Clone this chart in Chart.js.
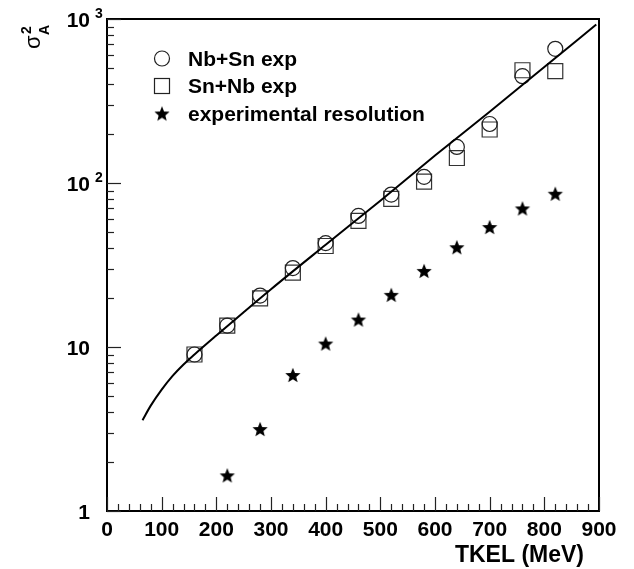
<!DOCTYPE html>
<html>
<head>
<meta charset="utf-8">
<title>sigma_A^2 vs TKEL</title>
<script src="https://cdn.jsdelivr.net/npm/chart.js@4.4.0/dist/chart.umd.min.js"></script>
<style>
    html, body { margin: 0; padding: 0; background: #ffffff; }
    #wrap { width: 634px; height: 569px; }
</style>
</head>
<body>
<div id="wrap"><canvas id="sigmaChart" width="634" height="569"></canvas></div>
<script>
// data
const energies = [160, 220, 280, 340, 400, 460, 520, 580, 640, 700, 760, 820];
const nbSnValues = [9.0, 13.5, 20.6, 30.3, 43, 63, 85, 109, 166, 229, 448, 658];
const snNbValues = [9.0, 13.5, 19.8, 28.4, 41.3, 58.7, 80, 102, 142, 212, 487, 481];

const resolutionEnergies = [220, 280, 340, 400, 460, 520, 580, 640, 700, 760, 820];
const resolutionValues = [1.65, 3.16, 6.75, 10.5, 14.7, 20.8, 29.1, 40.6, 53.9, 70, 86];

const fitEnergies = [65, 80, 100, 120, 140, 160, 200, 250, 300, 400, 500, 600, 700, 800, 895];
const fitValues = [3.58, 4.39, 5.5, 6.67, 7.83, 9.0, 11.75, 16.3, 22.5, 42, 78, 147, 272, 510, 925];

const seriesLabels = ['Nb+Sn exp', 'Sn+Nb exp', 'experimental resolution'];

const xTickValues = [0, 100, 200, 300, 400, 500, 600, 700, 800, 900];
const yTickValues = [1, 10, 100, 1000];
const yTickBases = ['1', '10', '10', '10'];
const yTickExponents = ['', '', '2', '3'];

const xTitle = 'TKEL (MeV)';

const FONT = '"Liberation Sans", Arial, Helvetica, sans-serif';

function toPoints(xs, ys) {
    return xs.map((x, i) => ({ x: x, y: ys[i] }));
}

// filled five-point star used as marker
function makeStar(r) {
    const size = Math.ceil(r * 2 + 2);
    const c = document.createElement('canvas');
    c.width = size;
    c.height = size;
    const g = c.getContext('2d');
    g.beginPath();
    for (let i = 0; i < 10; i++) {
        const a = -Math.PI / 2 + i * Math.PI / 5;
        const rr = i % 2 ? r * 0.44 : r;
        g.lineTo(size / 2 + rr * Math.cos(a), size / 2 + 0.8 + rr * Math.sin(a));
    }
    g.closePath();
    g.fillStyle = '#000';
    g.fill();
    return c;
}
const starImg = makeStar(8);

// frame, inward ticks, custom labels, legend
const decorPlugin = {
    id: 'decor',
    afterDraw(chart) {
        const ctx = chart.ctx;
        const area = chart.chartArea;
        const xs = chart.scales.x;
        const ys = chart.scales.y;
        ctx.save();

        // frame
        ctx.strokeStyle = '#000';
        ctx.lineWidth = 2;
        ctx.strokeRect(area.left, area.top, area.right - area.left, area.bottom - area.top);

        // x ticks (every 20 MeV, major every 100)
        ctx.lineWidth = 1.2;
        ctx.strokeStyle = '#222';
        for (let v = 0; v <= 900; v += 20) {
            const px = Math.round(xs.getPixelForValue(v)) + 0.5;
            const len = v % 100 === 0 ? 14 : 7;
            ctx.beginPath();
            ctx.moveTo(px, area.bottom);
            ctx.lineTo(px, area.bottom - len);
            ctx.stroke();
        }

        // y ticks (log decades)
        for (let d = 1; d <= 1000; d *= 10) {
            for (let m = 1; m <= 9; m++) {
                const v = d * m;
                if (v > 1000) break;
                const py = Math.round(ys.getPixelForValue(v)) + 0.5;
                const len = m === 1 ? 14 : 7;
                ctx.beginPath();
                ctx.moveTo(area.left, py);
                ctx.lineTo(area.left + len, py);
                ctx.stroke();
            }
        }

        // y tick labels with exponent
        ctx.fillStyle = '#000';
        ctx.textBaseline = 'alphabetic';
        yTickValues.forEach((v, i) => {
            const py = ys.getPixelForValue(v);
            ctx.font = 'bold 21px ' + FONT;
            ctx.textAlign = 'right';
            ctx.fillText(yTickBases[i], area.left - 17, py + 7.5);
            if (yTickExponents[i]) {
                ctx.font = 'bold 14px ' + FONT;
                ctx.textAlign = 'left';
                ctx.fillText(yTickExponents[i], area.left - 12, py - 1.5);
            }
        });

        // x title
        ctx.font = 'bold 23px ' + FONT;
        ctx.textAlign = 'right';
        ctx.fillText(xTitle, area.right - 15, 562);

        // y title: sigma_A^2, rotated
        ctx.save();
        ctx.translate(40, 49);
        ctx.rotate(-Math.PI / 2);
        ctx.textAlign = 'left';
        ctx.font = '22px ' + FONT;
        ctx.fillText('σ', 0, 0);
        ctx.font = 'bold 14px ' + FONT;
        ctx.fillText('2', 15, -9);
        ctx.fillText('A', 14, 9);
        ctx.restore();

        // legend
        const lx = 162;
        const rows = [58.5, 86, 113.5];
        ctx.lineWidth = 1.2;
        ctx.strokeStyle = '#222';
        ctx.beginPath();
        ctx.arc(lx, rows[0], 7.5, 0, Math.PI * 2);
        ctx.stroke();
        ctx.strokeRect(lx - 7.5, rows[1] - 7.5, 15, 15);
        ctx.drawImage(starImg, lx - starImg.width / 2, rows[2] - starImg.height / 2);
        ctx.font = 'bold 21px ' + FONT;
        ctx.textAlign = 'left';
        seriesLabels.forEach((t, i) => {
            ctx.fillText(t, 188, rows[i] + 7);
        });

        ctx.restore();
    }
};

const ctx = document.getElementById('sigmaChart');

new Chart(ctx, {
    type: 'scatter',
    data: {
        datasets: [
            {
                label: 'fit',
                data: toPoints(fitEnergies, fitValues),
                showLine: true,
                borderColor: '#000',
                borderWidth: 2,
                pointRadius: 0,
                cubicInterpolationMode: 'monotone',
                fill: false
            },
            {
                label: seriesLabels[0],
                data: toPoints(energies, nbSnValues),
                pointStyle: 'circle',
                pointRadius: 7.5,
                borderColor: '#222',
                borderWidth: 1.2,
                backgroundColor: 'rgba(0,0,0,0)'
            },
            {
                label: seriesLabels[1],
                data: toPoints(energies, snNbValues),
                pointStyle: 'rect',
                pointRadius: 10.6,
                borderColor: '#333',
                borderWidth: 1.2,
                backgroundColor: 'rgba(0,0,0,0)'
            },
            {
                label: seriesLabels[2],
                data: toPoints(resolutionEnergies, resolutionValues),
                pointStyle: starImg,
                pointRadius: 8
            }
        ]
    },
    options: {
        responsive: false,
        animation: false,
        layout: {
            padding: { left: 0, right: 35, top: 19, bottom: 0 }
        },
        scales: {
            x: {
                type: 'linear',
                min: 0,
                max: 900,
                afterBuildTicks: function (scale) {
                    scale.ticks = xTickValues.map(v => ({ value: v }));
                },
                afterFit: function (scale) {
                    scale.height = 58;
                },
                ticks: {
                    color: '#000',
                    padding: -1,
                    maxRotation: 0,
                    autoSkip: false,
                    font: { family: FONT, size: 21, weight: 'bold' }
                },
                grid: { display: false },
                border: { display: false }
            },
            y: {
                type: 'logarithmic',
                min: 1,
                max: 1000,
                afterFit: function (scale) {
                    scale.width = 107;
                },
                ticks: { display: false },
                grid: { display: false },
                border: { display: false }
            }
        },
        plugins: {
            legend: { display: false },
            tooltip: { enabled: false }
        }
    },
    plugins: [decorPlugin]
});
</script>
</body>
</html>
